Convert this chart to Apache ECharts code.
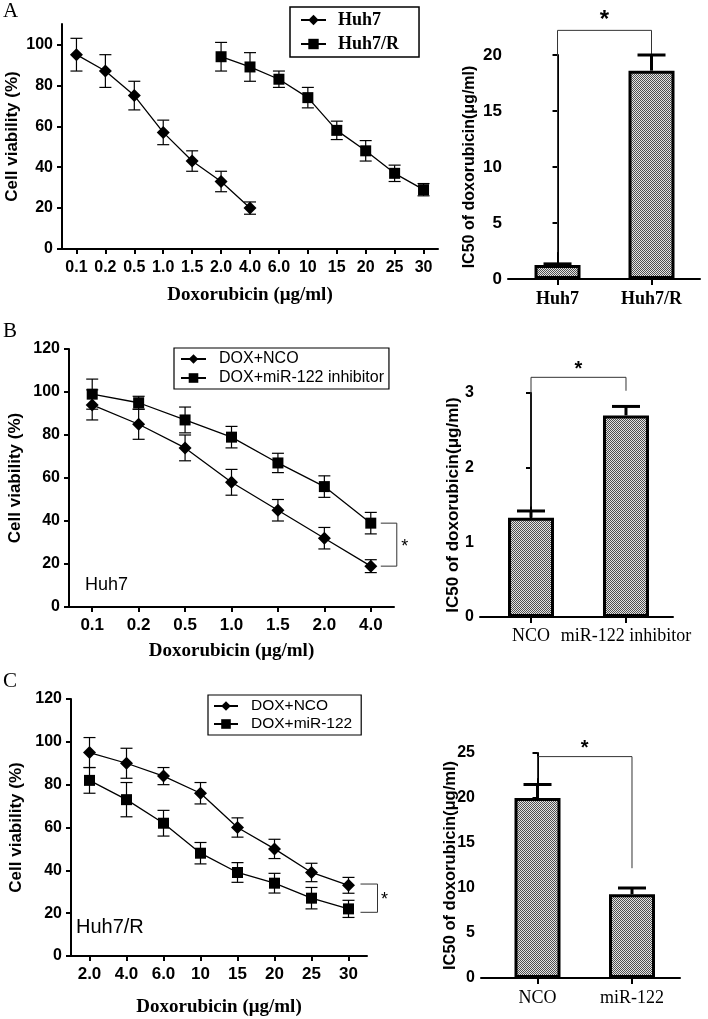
<!DOCTYPE html>
<html><head><meta charset="utf-8">
<script src="https://cdn.jsdelivr.net/npm/echarts@6/dist/echarts.min.js"></script>
<style>html,body{margin:0;padding:0;background:#fff}#c{width:708px;height:1019px}</style>
</head><body><div id="c"></div><script>
const SANS = '"Liberation Sans", Arial, sans-serif';
const SERIF = '"Liberation Serif", "Times New Roman", serif';

// ---------- Panel A ----------
const catsA = ['0.1','0.2','0.5','1.0','1.5','2.0','4.0','6.0','10','15','20','25','30'];
const huh7Mean = [95, 87, 75, 57, 43, 33, 20, '-', '-', '-', '-', '-', '-'];
const huh7Sd   = [8, 8, 7, 6, 5, 5, 3, 0, 0, 0, 0, 0, 0];
const huh7rMean = ['-', '-', '-', '-', '-', 94, 89, 83, 74, 58, 48, 37, 29];
const huh7rSd   = [0, 0, 0, 0, 0, 7, 7, 4, 5, 4.5, 5, 4, 3];
const yTicksA = [0, 20, 40, 60, 80, 100];
const ic50CatsA = ['Huh7', 'Huh7/R'];
const ic50MeanA = [1.25, 18.6];
const ic50SdA = [0.1, 1.4];
const ic50TicksA = [0, 5, 10, 15, 20];
const bracketA = [0, 2.4, 1, 20.0, 22.2]; // [x0, y0, x1, y1, yTop]

// ---------- Panel B ----------
const catsB = ['0.1','0.2','0.5','1.0','1.5','2.0','4.0'];
const ncoB = [94, 85, 74, 58, 45, 32, 19];
const ncoBSd = [7, 7, 6, 6, 5, 5, 3];
const inhB = [99, 95, 87, 79, 67, 56, 39];
const inhBSd = [7, 3, 6, 5, 4.5, 5, 5];
const ic50CatsB = ['NCO', 'miR-122 inhibitor'];
const ic50MeanB = [1.33, 2.7];
const ic50SdB = [0.09, 0.12];
const bracketB = [0, 1.48, 1, 3.03, 3.21];
const lineBracketB = [6, 39, 19];

// ---------- Panel C ----------
const catsC = ['2.0','4.0','6.0','10','15','20','25','30'];
const ncoC = [95, 90, 84, 76, 60, 50, 39, 33];
const ncoCSd = [7, 7, 4, 5, 4.5, 4.5, 4.3, 3.7];
const mirC = [82, 73, 62, 48, 39, 34, 27, 22];
const mirCSd = [6, 8, 6, 5, 4.6, 4.6, 5, 4];
const ic50CatsC = ['NCO', 'miR-122'];
const ic50MeanC = [20, 9.3];
const ic50SdC = [1.5, 0.7];
const bracketC = [0, 22.2, 1, 12.2, 24.6];
const lineBracketC = [7, 33.6, 20.4];

// pattern for bars
function makePattern(){
  const c = document.createElement('canvas'); c.width = 2; c.height = 2;
  const g = c.getContext('2d');
  g.fillStyle = '#e4e4e4'; g.fillRect(0,0,2,2);
  g.fillStyle = '#505050'; g.fillRect(0,0,1,1); g.fillRect(1,1,1,1);
  return c;
}
const pattern = {image: makePattern(), repeat: 'repeat'};

function errData(mean, sd){
  const out = [];
  mean.forEach((m,i)=>{ if (m !== '-') out.push([i, m, sd[i]]); });
  return out;
}
function lineErr(params, api){
  const x = api.value(0), m = api.value(1), s = api.value(2);
  const t = api.coord([x, m + s]), b = api.coord([x, m - s]);
  const w = 6, st = {stroke:'#000', lineWidth:1.2};
  return {type:'group', children:[
    {type:'line', shape:{x1:t[0],y1:t[1],x2:b[0],y2:b[1]}, style:st},
    {type:'line', shape:{x1:t[0]-w,y1:t[1],x2:t[0]+w,y2:t[1]}, style:st},
    {type:'line', shape:{x1:b[0]-w,y1:b[1],x2:b[0]+w,y2:b[1]}, style:st}
  ]};
}
function barErr(params, api){
  const x = api.value(0), m = api.value(1), s = api.value(2);
  const b = api.coord([x, m]), t = api.coord([x, m + s]);
  const w = 14, st = {stroke:'#000', lineWidth:3};
  return {type:'group', children:[
    {type:'line', shape:{x1:b[0],y1:b[1],x2:t[0],y2:t[1]}, style:st},
    {type:'line', shape:{x1:t[0]-w,y1:t[1],x2:t[0]+w,y2:t[1]}, style:st}
  ]};
}
function makeBarBracket(fontSize, starGap){
  return function(params, api){
    const p0 = api.coord([api.value(0), api.value(1)]);
    const p1 = api.coord([api.value(2), api.value(3)]);
    const top = api.coord([api.value(0), api.value(4)])[1];
    return {type:'group', children:[
      {type:'polyline', shape:{points:[[p0[0],p0[1]],[p0[0],top],[p1[0],top],[p1[0],p1[1]]]}, style:{stroke:'#333', lineWidth:1, fill:null}},
      {type:'text', style:{text:'*', x:(p0[0]+p1[0])/2, y:top - starGap, align:'center', verticalAlign:'middle', font:'bold ' + fontSize + 'px ' + SANS, fill:'#000'}}
    ]};
  };
}
function makeLineBracket(o1, o2, so){
  return function(params, api){
    const x = api.value(0);
    const a = api.coord([x, api.value(1)]), b = api.coord([x, api.value(2)]);
    return {type:'group', children:[
      {type:'polyline', shape:{points:[[a[0]+o1,a[1]],[a[0]+o2,a[1]],[a[0]+o2,b[1]],[a[0]+o1,b[1]]]}, style:{stroke:'#333', lineWidth:1, fill:null}},
      {type:'text', style:{text:'*', x:a[0]+so, y:(a[1]+b[1])/2 + 2, align:'center', verticalAlign:'middle', font:'18px ' + SANS, fill:'#000'}}
    ]};
  };
}

const axisLineStyle = {show:true, lineStyle:{color:'#000', width:2}};
function catXAxis(gi, cats, fs, margin, name, nameGap){
  return {type:'category', gridIndex:gi, data:cats, boundaryGap:true,
    axisLine:axisLineStyle, axisTick:{show:true, alignWithLabel:true, length:5, lineStyle:{color:'#000', width:2}},
    axisLabel:{color:'#000', fontFamily:SANS, fontWeight:'bold', fontSize:fs, margin:margin, interval:0},
    name:name, nameLocation:'middle', nameGap:nameGap, nameMoveOverlap:false,
    nameTextStyle:{color:'#000', fontFamily:SERIF, fontWeight:'bold', fontSize:19}, splitLine:{show:false}};
}
function valYAxis(gi, min, max, ticks, fs, margin, name, nameGap, nameFs){
  return {type:'value', gridIndex:gi, min:min, max:max,
    axisLine:axisLineStyle,
    axisTick:{show:true, length:5, lineStyle:{color:'#000', width:2}, customValues:ticks},
    axisLabel:{color:'#000', fontFamily:SANS, fontWeight:'bold', fontSize:fs, margin:margin, customValues:ticks},
    splitLine:{show:false},
    name:name, nameLocation:'middle', nameGap:nameGap, nameMoveOverlap:false,
    nameTextStyle:{color:'#000', fontFamily:SANS, fontWeight:'bold', fontSize:nameFs}};
}
function barXAxis(gi, cats, min, max, bold, fs, margin){
  return {type:'value', gridIndex:gi, min:min, max:max,
    axisLine:axisLineStyle,
    axisTick:{show:true, length:6, lineStyle:{color:'#000', width:2}, customValues:[0,1]},
    axisLabel:{color:'#000', fontFamily:SERIF, fontWeight:bold?'bold':'normal', fontSize:fs, margin:margin,
      customValues:[0,1], formatter:(v)=>cats[Math.round(v)]},
    splitLine:{show:false}};
}
function lineSeries(name, xi, data, symbol, size){
  return {type:'line', name:name, xAxisIndex:xi, yAxisIndex:xi, data:data, symbol:symbol, symbolSize:size,
    itemStyle:{color:'#000'}, lineStyle:{color:'#000', width:1.3}, z:5, connectNulls:false, silent:true};
}
function errSeries(xi, mean, sd){
  return {type:'custom', xAxisIndex:xi, yAxisIndex:xi, data:errData(mean, sd), renderItem:lineErr,
    encode:{x:0, y:1}, z:3, silent:true};
}
function barSeries(xi, mean){
  return {type:'bar', xAxisIndex:xi, yAxisIndex:xi, data:mean.map((m,i)=>[i,m]), barWidth:46,
    itemStyle:{color:pattern, borderColor:'#000', borderWidth:3}, z:3, silent:true};
}
function barErrSeries(xi, mean, sd){
  return {type:'custom', xAxisIndex:xi, yAxisIndex:xi, data:mean.map((m,i)=>[i,m,sd[i]]), renderItem:barErr,
    encode:{x:0, y:1}, z:4, silent:true};
}

const yTicksBC = [0, 20, 40, 60, 80, 100, 120];
const ic50TicksB = [0, 1, 2, 3];
const ic50TicksC = [0, 5, 10, 15, 20, 25];

const gridBase = {containLabel:false, outerBoundsMode:'none'};
const option = {
  animation:false,
  backgroundColor:'#fff',
  grid:[
    Object.assign({left:62, top:24, width:376, height:225}, gridBase),
    Object.assign({left:508, top:55, width:192, height:224}, gridBase),
    Object.assign({left:69, top:349, width:325, height:258}, gridBase),
    Object.assign({left:480, top:393, width:193, height:224}, gridBase),
    Object.assign({left:71, top:699, width:296, height:257}, gridBase),
    Object.assign({left:481, top:753, width:199, height:225}, gridBase)
  ],
  xAxis:[
    catXAxis(0, catsA, 16, 11, 'Doxorubicin (μg/ml)', 36.5),
    barXAxis(1, ic50CatsA, -0.527, 1.516, true, 18, 11),
    catXAxis(2, catsB, 17, 10, 'Doxorubicin (μg/ml)', 34.5),
    barXAxis(3, ic50CatsB, -0.537, 1.495, false, 18, 10),
    catXAxis(4, catsC, 17, 10, 'Doxorubicin (μg/ml)', 41.5),
    barXAxis(5, ic50CatsC, -0.598, 1.508, false, 18, 11)
  ],
  yAxis:[
    valYAxis(0, 0, 110, yTicksA, 16, 9, 'Cell viability (%)', 41.5, 17),
    valYAxis(1, 0, 20, ic50TicksA, 17, 6, 'IC50 of doxorubicin(μg/ml)', 30, 16),
    valYAxis(2, 0, 120, yTicksBC, 16, 9, 'Cell viability (%)', 45.5, 17),
    valYAxis(3, 0, 3, ic50TicksB, 16, 6, 'IC50 of doxorubicin(μg/ml)', 18.5, 17),
    valYAxis(4, 0, 120, yTicksBC, 16, 9, 'Cell viability (%)', 46.5, 17),
    valYAxis(5, 0, 25, ic50TicksC, 16, 6, 'IC50 of doxorubicin(μg/ml)', 22, 16.5)
  ],
  legend:[
    {data:['Huh7','Huh7/R'], orient:'vertical', left:290, top:7, itemWidth:25, itemHeight:13, itemGap:6,
      padding:[4,20,4,10], borderColor:'#000', borderWidth:1.5, selectedMode:false,
      textStyle:{fontFamily:SERIF, fontWeight:'bold', fontSize:18, color:'#000', padding:[0,0,0,7]}},
    {data:['DOX+NCO','DOX+miR-122 inhibitor'], orient:'vertical', left:174, top:348, itemWidth:25, itemHeight:12, itemGap:3,
      padding:[3,5,3,6], borderColor:'#000', borderWidth:1.2, selectedMode:false,
      textStyle:{fontFamily:SANS, fontSize:16, color:'#000', padding:[0,0,0,8], lineHeight:16}},
    {data:['DOX+NCO','DOX+miR-122'], orient:'vertical', left:208, top:695, itemWidth:24, itemHeight:12, itemGap:2,
      padding:[3,9,3,5], borderColor:'#000', borderWidth:1.2, selectedMode:false,
      textStyle:{fontFamily:SANS, fontSize:15.5, color:'#000', padding:[0,0,0,8], lineHeight:15}}
  ],
  graphic:[
    {type:'text', left:3, top:1, style:{text:'A', font:'21px ' + SERIF, fill:'#000'}},
    {type:'text', left:3, top:321, style:{text:'B', font:'21px ' + SERIF, fill:'#000'}},
    {type:'text', left:3, top:671, style:{text:'C', font:'21px ' + SERIF, fill:'#000'}},
    {type:'text', left:85, top:576, style:{text:'Huh7', font:'18px ' + SANS, fill:'#000'}},
    {type:'text', left:76, top:917, style:{text:'Huh7/R', font:'20px ' + SANS, fill:'#000'}}
  ],
  series:[
    // A left
    errSeries(0, huh7Mean, huh7Sd),
    errSeries(0, huh7rMean, huh7rSd),
    lineSeries('Huh7', 0, huh7Mean, 'diamond', 13),
    lineSeries('Huh7/R', 0, huh7rMean, 'rect', 11),
    // A right
    barSeries(1, ic50MeanA),
    barErrSeries(1, ic50MeanA, ic50SdA),
    {type:'custom', xAxisIndex:1, yAxisIndex:1, data:[bracketA], renderItem:makeBarBracket(24, 10),
      encode:{x:[0,2], y:[1,3,4]}, z:2, silent:true},
    // B left
    errSeries(2, ncoB, ncoBSd),
    errSeries(2, inhB, inhBSd),
    lineSeries('DOX+NCO', 2, ncoB, 'diamond', 13),
    lineSeries('DOX+miR-122 inhibitor', 2, inhB, 'rect', 11),
    {type:'custom', xAxisIndex:2, yAxisIndex:2, data:[lineBracketB], renderItem:makeLineBracket(10, 26, 34),
      encode:{x:0, y:[1,2]}, z:2, silent:true},
    // B right
    barSeries(3, ic50MeanB),
    barErrSeries(3, ic50MeanB, ic50SdB),
    {type:'custom', xAxisIndex:3, yAxisIndex:3, data:[bracketB], renderItem:makeBarBracket(20, 8),
      encode:{x:[0,2], y:[1,3,4]}, z:2, silent:true},
    // C left
    errSeries(4, ncoC, ncoCSd),
    errSeries(4, mirC, mirCSd),
    lineSeries('DOX+NCO', 4, ncoC, 'diamond', 13),
    lineSeries('DOX+miR-122', 4, mirC, 'rect', 11),
    {type:'custom', xAxisIndex:4, yAxisIndex:4, data:[lineBracketC], renderItem:makeLineBracket(12, 29, 36),
      encode:{x:0, y:[1,2]}, z:2, silent:true},
    // C right
    barSeries(5, ic50MeanC),
    barErrSeries(5, ic50MeanC, ic50SdC),
    {type:'custom', xAxisIndex:5, yAxisIndex:5, data:[bracketC], renderItem:makeBarBracket(20, 8),
      encode:{x:[0,2], y:[1,3,4]}, z:2, silent:true}
  ]
};
const chart = echarts.init(document.getElementById('c'), null, {renderer:'canvas'});
chart.setOption(option);
</script></body></html>
